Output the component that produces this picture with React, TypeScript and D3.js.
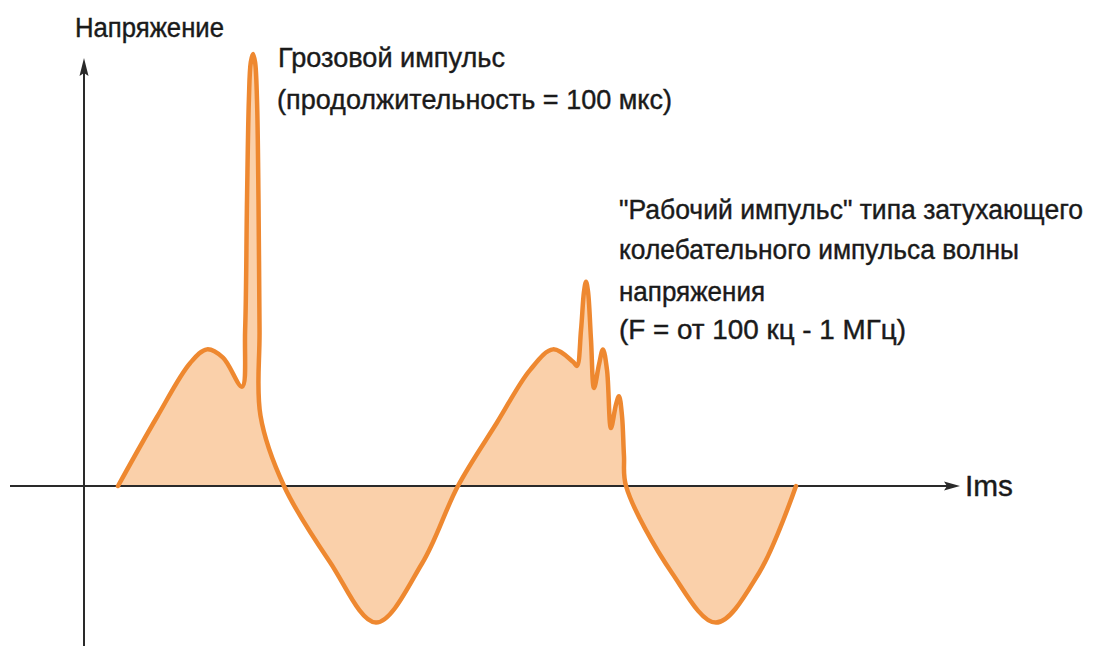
import React from "react";
import * as d3 from "d3";

// Waveform: time (phase units) and voltage (relative amplitude)
const timeValues = [
  0, 41.4, 76.5, 94.5, 111.5, 131.7,
  135, 137, 139, 141, 143.4, 145.6, 147.6, 149.2, 150.3, 151.3,
  176.3,
  225, 274, 323, 361,
  402.5, 437.5, 462, 483.2, 487.4,
  491.7, 494.9, 497, 499.1, 502.3, 505.5,
  510.8, 515, 519.3, 523.5,
  528.8, 532, 535.2, 537.3, 539.5,
  588.3, 635, 680.7, 720,
];
const voltageValues = [
  0, 0.5, 0.89, 0.99, 0.93, 0.72,
  1.13, 2.07, 2.8, 3.07, 3.13, 3.07, 2.8, 2.07, 1.13, 0.51,
  0,
  -0.55, -0.99, -0.56, 0,
  0.46, 0.84, 0.99, 0.9, 0.87,
  1.13, 1.41, 1.48, 1.41, 1.06, 0.71,
  0.88, 0.99, 0.84, 0.42,
  0.59, 0.65, 0.51, 0.22, 0,
  -0.63, -0.99, -0.63, 0,
];

const yAxisTitle = "Напряжение";
const xAxisTitle = "Ims";
const lightningLabel = ["Грозовой импульс", "(продолжительность = 100 мкс)"];
const switchingLabel = [
  "\"Рабочий импульс\" типа затухающего",
  "колебательного импульса волны",
  "напряжения",
  "(F = от 100 кц - 1 МГц)",
];

const W = 1094;
const H = 646;

export default function App() {
  const x = d3.scaleLinear().domain([0, 720]).range([118, 796]);
  const y = d3.scaleLinear().domain([0, 1]).range([486, 348]);
  const pts = timeValues.map((t, i) => [t, voltageValues[i]] as [number, number]);

  const curve = d3.curveCatmullRom.alpha(0.5);
  const line = d3
    .line<[number, number]>()
    .x((d) => x(d[0]))
    .y((d) => y(d[1]))
    .curve(curve);
  const area = d3
    .area<[number, number]>()
    .x((d) => x(d[0]))
    .y0(y(0))
    .y1((d) => y(d[1]))
    .curve(curve);

  const axisColor = "#2a2a2a";
  const font = "'Liberation Sans Narrow', 'Arial Narrow', 'Liberation Sans', Arial, sans-serif";
  const textColor = "#1a1a1a";
  const fs = 27;

  const yAxisX = 84;
  const xAxisY = y(0);

  const switchLines = [
    { text: switchingLabel[0], y: 219, len: 464 },
    { text: switchingLabel[1], y: 259, len: 400 },
    { text: switchingLabel[2], y: 301, len: 146 },
    { text: switchingLabel[3], y: 339, len: 287 },
  ];

  return (
    <svg
      width={W}
      height={H}
      style={{ position: "absolute", left: 0, top: 0, background: "#fff" }}
    >
      <rect width={W} height={H} fill="#fff" />
      {/* waveform fill */}
      <path d={area(pts) || ""} fill="#FAD0AA" stroke="none" />
      {/* axes */}
      <line x1={10} x2={948} y1={xAxisY} y2={xAxisY} stroke={axisColor} strokeWidth={2} />
      <path
        d={`M${960},${xAxisY} L${944},${xAxisY - 4.5} L${947},${xAxisY} L${944},${xAxisY + 4.5} Z`}
        fill={axisColor}
      />
      <line x1={yAxisX} x2={yAxisX} y1={H} y2={70} stroke={axisColor} strokeWidth={2} />
      <path
        d={`M${yAxisX},${58} L${yAxisX - 4.5},${76} L${yAxisX},${73} L${yAxisX + 4.5},${76} Z`}
        fill={axisColor}
      />
      {/* waveform stroke */}
      <path
        d={line(pts) || ""}
        fill="none"
        stroke="#EE8830"
        strokeWidth={4.5}
        strokeLinejoin="round"
        strokeLinecap="round"
      />
      {/* texts */}
      <g fontFamily={font} fill={textColor} stroke={textColor} strokeWidth={0.4} fontSize={fs}>
        <text x={75} y={37} textLength={149} lengthAdjust="spacingAndGlyphs">
          {yAxisTitle}
        </text>
        <text x={965} y={496} textLength={48} lengthAdjust="spacingAndGlyphs" fontSize={30}>
          {xAxisTitle}
        </text>
        <text x={278} y={67} textLength={227} lengthAdjust="spacingAndGlyphs" fontSize={28}>
          {lightningLabel[0]}
        </text>
        <text x={277} y={109} textLength={395} lengthAdjust="spacingAndGlyphs" fontSize={28}>
          {lightningLabel[1]}
        </text>
        {switchLines.map((l, i) => (
          <text key={i} x={619} y={l.y} textLength={l.len} lengthAdjust="spacingAndGlyphs">
            {l.text}
          </text>
        ))}
      </g>
    </svg>
  );
}
